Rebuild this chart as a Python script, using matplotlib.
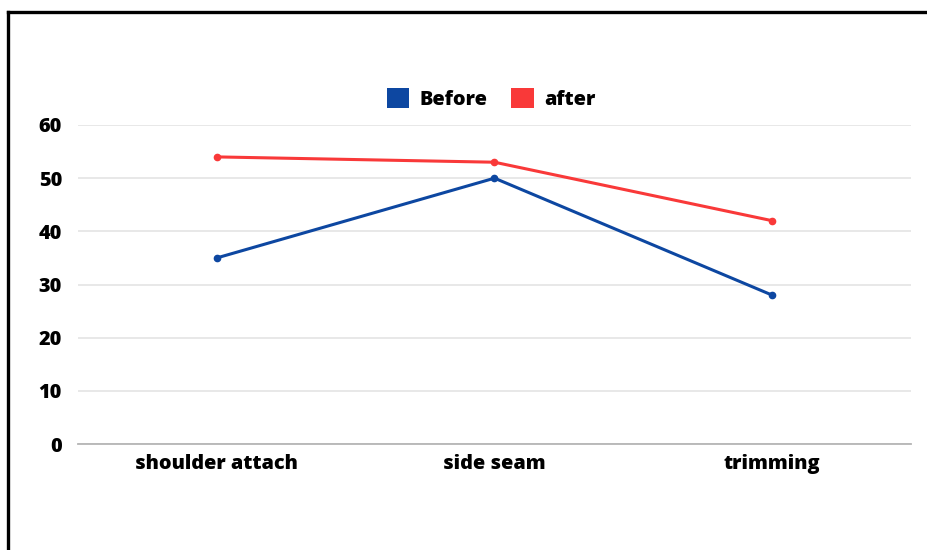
import matplotlib.pyplot as plt
from matplotlib.patches import Patch
from matplotlib.lines import Line2D

plt.rcParams['font.family'] = ['Open Sans', 'DejaVu Sans']
plt.rcParams['font.weight'] = 'heavy'

steps = ['shoulder attach', 'side seam', 'trimming']
before = [35, 50, 28]
after = [54, 53, 42]
yticks = [0, 10, 20, 30, 40, 50, 60]

blue = '#0d47a1'
red = '#f93939'

fig = plt.figure(figsize=(9.28, 5.5), dpi=100)
ax = fig.add_axes([78 / 928, 1 - 444 / 550, (911 - 78) / 928, (444 - 125) / 550])

x = range(len(steps))
ax.plot(x, before, color=blue, lw=2.2, marker='o', ms=4.5, zorder=3)
ax.plot(x, after, color=red, lw=2.2, marker='o', ms=4.5, zorder=3)

ax.set_xlim(-0.5, len(steps) - 0.5)
ax.set_ylim(0, 60)
ax.set_yticks(yticks)
ax.set_xticks(list(x))
ax.set_xticklabels(steps)
ax.tick_params(axis='both', length=0, labelsize=14.3)
ax.tick_params(axis='y', pad=11.5)
ax.tick_params(axis='x', pad=7)
ax.grid(axis='y', color='#e2e2e2', lw=1.1)
ax.set_axisbelow(True)
for side in ['top', 'right', 'left']:
    ax.spines[side].set_visible(False)
ax.spines['bottom'].set_color('#b5b5b5')
ax.spines['bottom'].set_linewidth(1.3)

handles = [Patch(facecolor=blue, label='Before'), Patch(facecolor=red, label='after')]
fig.legend(handles=handles, loc='center', bbox_to_anchor=(491 / 928, 1 - 99 / 550),
           ncol=2, frameon=False, fontsize=14.3, handlelength=1.15, handleheight=1.15,
           handletextpad=0.5, columnspacing=1.2)

# black frame along the top and left edges
fig.add_artist(Line2D([8 / 928, 8 / 928], [0, 1 - 12 / 550], color='black', lw=2.4))
fig.add_artist(Line2D([8 / 928, 1], [1 - 12 / 550, 1 - 12 / 550], color='black', lw=2.4))

fig.savefig('out.png', dpi=100, facecolor='white')
